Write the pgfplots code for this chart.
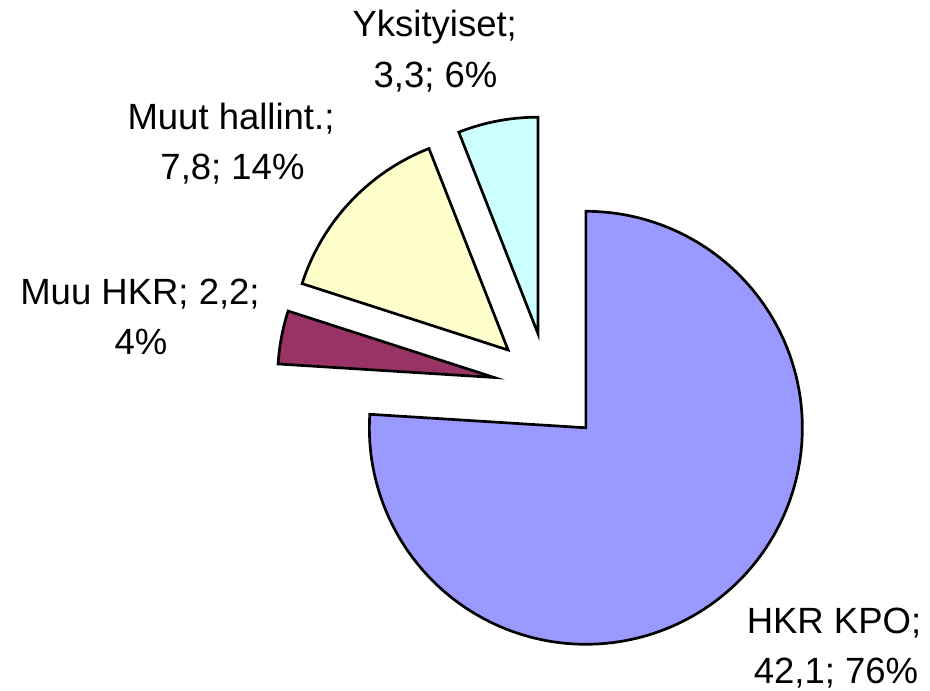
\documentclass[border=0pt]{standalone}
\usepackage{pgfplots}
\pgfplotsset{compat=1.18}
\usepackage{pgfplotstable}
\usepackage{fontspec}
\setmainfont{Liberation Sans}
\definecolor{cKPO}{HTML}{9999FF}
\definecolor{cMuu}{HTML}{993366}
\definecolor{cHall}{HTML}{FFFFCC}
\definecolor{cYks}{HTML}{CCFFFF}
\tikzset{lbl/.style={font=\fontsize{36.5}{44}\selectfont, anchor=base, inner sep=0pt}}
\pgfplotstableread{
name value
KPO 42.1
MuuHKR 2.2
Hall 7.8
Yks 3.3
}\piedata
\pgfplotstablegetelem{0}{value}\of\piedata \let\vA\pgfplotsretval
\pgfplotstablegetelem{1}{value}\of\piedata \let\vB\pgfplotsretval
\pgfplotstablegetelem{2}{value}\of\piedata \let\vC\pgfplotsretval
\pgfplotstablegetelem{3}{value}\of\piedata \let\vD\pgfplotsretval
\def\cx{548.2}\def\cy{303.3}\def\R{216.5}\def\ex{55}
\pgfmathsetmacro\tot{\vA+\vB+\vC+\vD}
\pgfmathsetmacro\aA{90}
\pgfmathsetmacro\aB{\aA-360*\vA/\tot}
\pgfmathsetmacro\aC{\aB-360*\vB/\tot}
\pgfmathsetmacro\aD{\aC-360*\vC/\tot}
\pgfmathsetmacro\aE{\aD-360*\vD/\tot}
\pgfmathsetmacro\oxA{\cx+\ex*cos((\aA+\aB)/2)}\pgfmathsetmacro\oyA{\cy+\ex*sin((\aA+\aB)/2)}
\pgfmathsetmacro\oxB{\cx+\ex*cos((\aB+\aC)/2)}\pgfmathsetmacro\oyB{\cy+\ex*sin((\aB+\aC)/2)}
\pgfmathsetmacro\oxC{\cx+\ex*cos((\aC+\aD)/2)}\pgfmathsetmacro\oyC{\cy+\ex*sin((\aC+\aD)/2)}
\pgfmathsetmacro\oxD{\cx+\ex*cos((\aD+\aE)/2)}\pgfmathsetmacro\oyD{\cy+\ex*sin((\aD+\aE)/2)}
\begin{document}
\begin{tikzpicture}
\begin{axis}[
  scale only axis, width=930pt, height=691pt,
  xmin=0, xmax=930, ymin=0, ymax=691,
  hide axis, clip=false,
]
\addplot[draw=none] coordinates {(0,0) (930,691)};
\addplot[fill=cKPO, draw=black, line width=2.7pt, domain=\aB:\aA, samples=180, variable=\t]
  ({\oxA+\R*cos(\t)},{\oyA+\R*sin(\t)}) -- (axis cs:\oxA,\oyA) -- cycle;
\addplot[fill=cMuu, draw=black, line width=2.7pt, domain=\aC:\aB, samples=30, variable=\t]
  ({\oxB+\R*cos(\t)},{\oyB+\R*sin(\t)}) -- (axis cs:\oxB,\oyB) -- cycle;
\addplot[fill=cHall, draw=black, line width=2.7pt, domain=\aD:\aC, samples=60, variable=\t]
  ({\oxC+\R*cos(\t)},{\oyC+\R*sin(\t)}) -- (axis cs:\oxC,\oyC) -- cycle;
\addplot[fill=cYks, draw=black, line width=2.7pt, domain=\aE:\aD, samples=30, variable=\t]
  ({\oxD+\R*cos(\t)},{\oyD+\R*sin(\t)}) -- (axis cs:\oxD,\oyD) -- cycle;
\node[lbl] at (axis cs:434.7,654.3) {Yksityiset;};
\node[lbl] at (axis cs:435.5,603.7) {3,3; 6\%};
\node[lbl] at (axis cs:231,561.7) {Muut hallint.;};
\node[lbl] at (axis cs:232.5,511) {7,8; 14\%};
\node[lbl] at (axis cs:140,386) {Muu HKR; 2,2;};
\node[lbl] at (axis cs:141,336) {4\%};
\node[lbl] at (axis cs:834,57) {HKR KPO;};
\node[lbl] at (axis cs:836,7) {42,1; 76\%};
\end{axis}
\end{tikzpicture}
\end{document}
